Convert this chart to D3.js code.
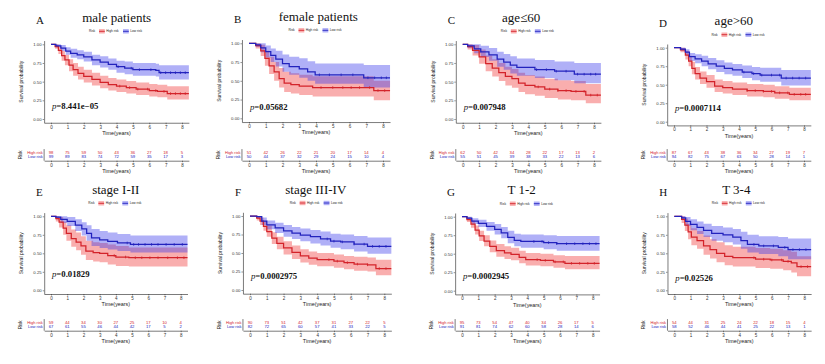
<!DOCTYPE html>
<html>
<head>
<meta charset="utf-8">
<script src="https://cdn.jsdelivr.net/npm/d3@7"></script>
<style>
  body { margin: 0; background: #fff; }
  svg { display: block; }
</style>
</head>
<body>
<svg id="chart" width="825" height="364"></svg>
<script>
// ---- data ----
const years = [0, 1, 2, 3, 4, 5, 6, 7, 8];
const yTicks = [0, 0.25, 0.5, 0.75, 1];
const panelIds = ['A', 'B', 'C', 'D', 'E', 'F', 'G', 'H'];
const panelTitles = ['male patients', 'female patients', 'age≤60', 'age>60',
  'stage I-II', 'stage III-IV', 'T 1-2', 'T 3-4'];
const pValues = ['8.441e−05', '0.05682', '0.007948', '0.0007114',
  '0.01829', '0.0002975', '0.0002945', '0.02526'];

// numbers at risk, years 0..8
const highAtRisk = [
  [98, 75, 59, 50, 43, 36, 27, 18, 5],
  [51, 42, 26, 22, 21, 20, 17, 14, 4],
  [62, 50, 42, 34, 28, 22, 17, 13, 2],
  [87, 67, 43, 38, 36, 34, 27, 19, 7],
  [59, 44, 34, 30, 27, 25, 17, 10, 4],
  [90, 73, 51, 42, 37, 31, 27, 22, 5],
  [95, 73, 54, 47, 40, 34, 26, 17, 5],
  [54, 44, 31, 25, 24, 22, 18, 15, 4],
];
const lowAtRisk = [
  [99, 89, 83, 74, 72, 59, 35, 17, 3],
  [50, 44, 37, 32, 29, 24, 15, 10, 4],
  [55, 51, 45, 39, 38, 33, 22, 13, 6],
  [94, 82, 75, 67, 63, 50, 28, 14, 1],
  [67, 61, 55, 46, 44, 42, 17, 5, 2],
  [82, 72, 65, 60, 57, 41, 33, 22, 5],
  [91, 81, 74, 62, 60, 58, 28, 14, 6],
  [58, 52, 46, 44, 41, 25, 22, 13, 1],
];

// survival steps: [time, survival, lower CI, upper CI]
const highCurves = [
  [[0,1,1,1],[0.25,0.97,0.94,1],[0.45,0.92,0.87,0.97],[0.65,0.85,0.78,0.91],[0.85,0.79,0.72,0.86],[1.1,0.72,0.64,0.8],[1.35,0.66,0.58,0.75],[1.65,0.61,0.53,0.7],[2.0,0.57,0.49,0.66],[2.5,0.53,0.45,0.62],[3.0,0.49,0.41,0.58],[3.5,0.46,0.38,0.55],[4.0,0.44,0.36,0.53],[4.6,0.42,0.34,0.51],[5.2,0.4,0.32,0.49],[6.0,0.38,0.3,0.47],[6.5,0.37,0.29,0.46],[7.1,0.34,0.26,0.44],[8.42,0.34,0.26,0.44]],
  [[0,1,1,1],[0.4,0.97,0.93,1],[0.7,0.9,0.83,0.98],[0.95,0.8,0.7,0.9],[1.2,0.7,0.59,0.82],[1.5,0.62,0.5,0.75],[1.8,0.53,0.41,0.67],[2.1,0.47,0.35,0.62],[2.5,0.45,0.33,0.6],[3.0,0.43,0.31,0.58],[3.8,0.41,0.29,0.56],[7.45,0.37,0.24,0.5],[8.42,0.37,0.24,0.5]],
  [[0,1,1,1],[0.3,0.97,0.93,1],[0.6,0.92,0.85,0.99],[1.0,0.83,0.74,0.93],[1.4,0.74,0.64,0.85],[1.8,0.68,0.57,0.8],[2.2,0.62,0.51,0.75],[2.6,0.57,0.45,0.7],[3.0,0.54,0.42,0.67],[3.4,0.48,0.36,0.62],[3.8,0.45,0.33,0.59],[4.4,0.43,0.31,0.57],[5.0,0.4,0.28,0.54],[5.8,0.38,0.26,0.52],[6.6,0.37,0.25,0.51],[7.5,0.32,0.21,0.47],[8.42,0.32,0.21,0.47]],
  [[0,1,1,1],[0.4,0.97,0.94,1],[0.7,0.9,0.84,0.96],[0.9,0.82,0.75,0.89],[1.1,0.72,0.64,0.81],[1.3,0.65,0.57,0.74],[1.6,0.59,0.51,0.68],[2.0,0.54,0.46,0.63],[2.5,0.48,0.4,0.57],[3.0,0.46,0.38,0.55],[3.6,0.44,0.36,0.53],[4.5,0.42,0.34,0.51],[5.5,0.41,0.33,0.5],[6.2,0.39,0.31,0.48],[7.1,0.37,0.29,0.46],[8.42,0.37,0.29,0.46]],
  [[0,1,1,1],[0.3,0.97,0.93,1],[0.5,0.92,0.85,0.99],[0.75,0.84,0.75,0.93],[0.95,0.77,0.67,0.88],[1.25,0.7,0.59,0.82],[1.55,0.65,0.54,0.78],[1.85,0.6,0.48,0.73],[2.15,0.53,0.41,0.67],[2.6,0.51,0.39,0.65],[3.0,0.5,0.38,0.64],[3.5,0.47,0.35,0.62],[4.0,0.45,0.33,0.6],[4.8,0.44,0.32,0.58],[8.42,0.44,0.32,0.58]],
  [[0,1,1,1],[0.4,0.97,0.94,1],[0.6,0.93,0.88,0.98],[0.8,0.86,0.8,0.93],[1.0,0.79,0.72,0.87],[1.3,0.7,0.62,0.78],[1.6,0.63,0.55,0.72],[2.0,0.57,0.48,0.66],[2.5,0.51,0.42,0.6],[3.0,0.46,0.37,0.55],[3.5,0.43,0.34,0.52],[4.0,0.41,0.32,0.5],[5.0,0.39,0.3,0.48],[5.6,0.37,0.28,0.46],[6.2,0.35,0.26,0.45],[7.0,0.34,0.25,0.44],[7.5,0.29,0.2,0.41],[8.42,0.29,0.2,0.41]],
  [[0,1,1,1],[0.3,0.96,0.93,0.99],[0.55,0.9,0.85,0.95],[0.8,0.82,0.76,0.88],[1.05,0.74,0.67,0.81],[1.35,0.67,0.6,0.75],[1.7,0.6,0.52,0.68],[2.1,0.54,0.46,0.63],[2.6,0.51,0.43,0.6],[3.0,0.49,0.41,0.58],[3.5,0.45,0.37,0.54],[3.9,0.42,0.34,0.51],[4.8,0.41,0.33,0.5],[5.6,0.39,0.31,0.48],[6.3,0.37,0.29,0.47],[8.42,0.37,0.29,0.47]],
  [[0,1,1,1],[0.45,0.96,0.91,1],[0.65,0.88,0.8,0.97],[0.85,0.79,0.69,0.9],[1.05,0.72,0.61,0.84],[1.4,0.67,0.56,0.8],[1.8,0.6,0.48,0.74],[2.2,0.55,0.43,0.69],[2.6,0.5,0.38,0.65],[3.1,0.46,0.34,0.61],[3.6,0.44,0.32,0.59],[5.0,0.42,0.3,0.57],[5.9,0.41,0.29,0.56],[6.7,0.39,0.27,0.54],[7.2,0.37,0.24,0.52],[7.55,0.32,0.19,0.46],[8.42,0.32,0.19,0.46]],
];
const lowCurves = [
  [[0,1,1,1],[0.3,0.98,0.96,1],[0.6,0.95,0.91,0.99],[0.9,0.91,0.86,0.96],[1.2,0.88,0.82,0.94],[1.6,0.86,0.8,0.92],[2.0,0.83,0.77,0.9],[2.5,0.79,0.72,0.86],[3.0,0.76,0.69,0.84],[3.5,0.73,0.66,0.81],[4.0,0.7,0.62,0.78],[4.5,0.68,0.6,0.77],[5.0,0.66,0.58,0.75],[6.4,0.65,0.57,0.74],[6.6,0.62,0.53,0.72],[8.42,0.62,0.53,0.72]],
  [[0,1,1,1],[0.4,0.98,0.95,1],[0.7,0.94,0.88,1],[1.0,0.89,0.81,0.97],[1.3,0.84,0.75,0.93],[1.6,0.79,0.69,0.9],[2.0,0.73,0.62,0.85],[2.4,0.69,0.58,0.82],[3.0,0.66,0.54,0.8],[3.5,0.62,0.5,0.76],[3.95,0.58,0.46,0.73],[6.85,0.54,0.41,0.71],[8.42,0.54,0.41,0.71]],
  [[0,1,1,1],[0.3,0.98,0.95,1],[0.7,0.94,0.88,1],[1.1,0.9,0.83,0.98],[1.6,0.86,0.78,0.95],[2.1,0.8,0.7,0.9],[2.5,0.76,0.66,0.87],[2.9,0.72,0.61,0.84],[3.3,0.69,0.58,0.81],[4.4,0.66,0.55,0.79],[5.6,0.64,0.52,0.77],[6.8,0.6,0.48,0.75],[8.42,0.6,0.48,0.75]],
  [[0,1,1,1],[0.4,0.98,0.96,1],[0.7,0.94,0.9,0.98],[0.95,0.88,0.82,0.93],[1.3,0.85,0.79,0.91],[1.7,0.82,0.75,0.89],[2.1,0.78,0.71,0.86],[2.6,0.75,0.67,0.83],[3.1,0.72,0.64,0.8],[3.6,0.7,0.62,0.78],[4.2,0.67,0.59,0.76],[4.8,0.65,0.56,0.74],[5.3,0.63,0.54,0.73],[6.6,0.59,0.49,0.7],[8.42,0.59,0.49,0.7]],
  [[0,1,1,1],[0.3,0.99,0.96,1],[0.6,0.96,0.91,1],[1.0,0.93,0.87,0.99],[1.5,0.88,0.8,0.96],[1.9,0.83,0.74,0.92],[2.2,0.77,0.67,0.88],[2.5,0.71,0.6,0.83],[3.0,0.68,0.57,0.8],[3.5,0.66,0.55,0.78],[4.1,0.64,0.53,0.76],[4.9,0.62,0.51,0.74],[8.42,0.62,0.51,0.74]],
  [[0,1,1,1],[0.4,0.99,0.97,1],[0.7,0.93,0.88,0.98],[1.0,0.88,0.82,0.94],[1.5,0.84,0.77,0.91],[2.0,0.8,0.72,0.88],[2.5,0.77,0.69,0.85],[3.0,0.74,0.66,0.83],[3.6,0.72,0.63,0.81],[4.2,0.69,0.6,0.79],[4.8,0.66,0.57,0.76],[5.4,0.65,0.55,0.75],[6.2,0.62,0.52,0.73],[7.0,0.59,0.49,0.71],[8.42,0.59,0.49,0.71]],
  [[0,1,1,1],[0.3,0.98,0.96,1],[0.6,0.94,0.9,0.98],[1.0,0.91,0.86,0.96],[1.5,0.87,0.81,0.93],[2.0,0.83,0.76,0.9],[2.4,0.78,0.71,0.86],[2.8,0.72,0.64,0.81],[3.2,0.68,0.6,0.77],[3.6,0.665,0.58,0.76],[5.0,0.65,0.56,0.75],[5.8,0.635,0.54,0.74],[8.42,0.635,0.54,0.74]],
  [[0,1,1,1],[0.45,0.98,0.95,1],[0.7,0.93,0.87,0.99],[1.0,0.89,0.81,0.96],[1.4,0.85,0.76,0.93],[1.8,0.81,0.72,0.9],[2.3,0.77,0.67,0.87],[3.0,0.75,0.65,0.85],[3.6,0.72,0.62,0.83],[4.1,0.67,0.56,0.79],[4.5,0.62,0.51,0.75],[5.2,0.6,0.49,0.73],[6.4,0.58,0.46,0.72],[7.0,0.55,0.42,0.7],[8.42,0.55,0.42,0.7]],
];

// censoring times (years)
const highCensor = [
  [4.2, 4.8, 5.3, 5.9, 6.4, 6.9, 7.3, 7.6, 7.9, 8.2],
  [4.3, 5.0, 5.6, 6.1, 6.6, 7.2, 7.7, 8.1],
  [4.6, 5.3, 5.8, 6.3, 6.9, 7.4, 7.8, 8.2],
  [4.5, 5.0, 5.5, 6.0, 6.5, 7.0, 7.4, 7.8, 8.1],
  [3.9, 4.6, 5.2, 5.6, 6.1, 6.6, 7.2, 7.8, 8.2],
  [4.7, 5.2, 5.8, 6.4, 7.0, 7.7, 8.1],
  [4.6, 5.1, 5.7, 6.2, 6.7, 7.2, 7.7, 8.1],
  [4.9, 5.5, 6.0, 6.6, 7.0, 7.8, 8.2],
];
const lowCensor = [
  [4.1, 4.9, 5.4, 6.1, 6.7, 7.0, 7.3, 7.6, 7.9, 8.2],
  [4.2, 4.8, 5.5, 6.2, 7.1, 7.5, 7.9, 8.2],
  [4.5, 5.1, 5.7, 6.3, 7.0, 7.4, 7.8, 8.1],
  [4.3, 4.9, 5.4, 6.0, 6.5, 6.9, 7.3, 7.7, 8.1],
  [4.7, 5.1, 5.4, 5.8, 6.2, 6.6, 7.1, 7.6, 8.1],
  [4.6, 5.0, 5.5, 6.2, 6.8, 7.3, 7.7, 8.1],
  [4.4, 4.9, 5.3, 5.8, 6.4, 6.9, 7.4, 7.8, 8.2],
  [4.9, 5.5, 6.1, 6.8, 7.3, 7.7, 8.1],
];

// ---- layout: pixel positions of year 0, span of 0..8 years, y of 1.00 and 0.00 ----
const layout = [
  { x0: 51, xs: 131, y1: 44.3, y0: 119, titleX: 116.7, pDy: -13 },
  { x0: 249, xs: 134, y1: 43.3, y0: 118.3, titleX: 318.3, pDy: -11 },
  { x0: 462.7, xs: 131.3, y1: 44.3, y0: 119, titleX: 521.2, pDy: -12.3 },
  { x0: 674, xs: 130, y1: 47.7, y0: 121.7, titleX: 733.8, pDy: -14 },
  { x0: 51, xs: 129.7, y1: 216.3, y0: 290.3, titleX: 115.8, pDy: -16.6 },
  { x0: 250, xs: 134.3, y1: 216, y0: 290, titleX: 315.8, pDy: -13.7 },
  { x0: 462, xs: 130.7, y1: 216.7, y0: 290.7, titleX: 521.7, pDy: -14.4 },
  { x0: 674.3, xs: 130, y1: 216.3, y0: 290.3, titleX: 736.3, pDy: -12.6 },
];
const tableRowY = [152.7, 322.7];

const sans = "'Liberation Sans', Arial, sans-serif";
const serif = "'Liberation Serif', 'Times New Roman', serif";
const red = '#d3232a';
const blue = '#2222bd';
const redFill = '#ef3535';
const blueFill = '#3a3aec';

const svg = d3.select('#chart');

function styleAxis(sel, fs) {
  sel.attr('font-family', sans);
  sel.select('.domain').attr('stroke', '#222').attr('stroke-width', 0.6);
  sel.selectAll('.tick line').attr('stroke', '#222').attr('stroke-width', 0.5);
  sel.selectAll('.tick text').attr('font-size', fs).attr('fill', '#333');
}

function survAt(curve, t) {
  const k = d3.bisector((p) => p[0]).right(curve, t) - 1;
  return curve[Math.max(0, k)][1];
}

panelIds.forEach((id, i) => {
  const L = layout[i];
  const g = svg.append('g');
  const x = d3.scaleLinear().domain([0, 8]).range([L.x0, L.x0 + L.xs]);
  const y = d3.scaleLinear().domain([0, 1]).range([L.y0, L.y1]);
  const xAxisScale = d3.scaleLinear().domain([-0.42, 8.42]).range([x(-0.42), x(8.42)]);
  const yAxisScale = d3.scaleLinear().domain([-0.05, 1.05]).range([y(-0.05), y(1.05)]);
  const left = x(-0.42);
  const bottom = y(-0.05);
  const midX = (x(-0.42) + x(8.42)) / 2;

  const groups = [
    { curve: highCurves[i], censor: highCensor[i], line: red, fill: redFill },
    { curve: lowCurves[i], censor: lowCensor[i], line: blue, fill: blueFill },
  ];

  // confidence bands
  groups.forEach((s) => {
    g.append('path')
      .datum(s.curve)
      .attr('d', d3.area().curve(d3.curveStepAfter)
        .x((p) => x(p[0])).y0((p) => y(p[2])).y1((p) => y(p[3])))
      .attr('fill', s.fill)
      .attr('fill-opacity', 0.4);
  });

  // survival lines + censor marks
  groups.forEach((s) => {
    g.append('path')
      .datum(s.curve)
      .attr('d', d3.line().curve(d3.curveStepAfter).x((p) => x(p[0])).y((p) => y(p[1])))
      .attr('fill', 'none')
      .attr('stroke', s.line)
      .attr('stroke-width', 1.25);
    g.selectAll(null)
      .data(s.censor)
      .enter()
      .append('line')
      .attr('x1', (t) => x(t))
      .attr('x2', (t) => x(t))
      .attr('y1', (t) => y(survAt(s.curve, t)) - 1.3)
      .attr('y2', (t) => y(survAt(s.curve, t)) + 1.3)
      .attr('stroke', s.line)
      .attr('stroke-width', 0.8);
  });

  // axes
  g.append('g')
    .attr('transform', `translate(0,${bottom})`)
    .call(d3.axisBottom(xAxisScale).tickValues(years).tickSize(1.5).tickSizeOuter(0).tickPadding(1.2))
    .call((s) => styleAxis(s, 4.5));
  g.append('g')
    .attr('transform', `translate(${left},0)`)
    .call(d3.axisLeft(yAxisScale).tickValues(yTicks).tickFormat(d3.format('.2f'))
      .tickSize(1.5).tickSizeOuter(0).tickPadding(1))
    .call((s) => styleAxis(s, 4.3));

  g.append('text')
    .attr('x', midX)
    .attr('y', L.y0 + 15.8)
    .attr('text-anchor', 'middle')
    .attr('font-family', sans)
    .attr('font-size', 5.4)
    .attr('fill', '#222')
    .text('Time(years)');
  g.append('text')
    .attr('transform', `translate(${L.x0 - 29.3},${(y(1.05) + bottom) / 2}) rotate(-90)`)
    .attr('text-anchor', 'middle')
    .attr('dominant-baseline', 'middle')
    .attr('font-family', sans)
    .attr('font-size', 5)
    .attr('fill', '#222')
    .text('Survival probability');

  // panel letter and title
  g.append('text')
    .attr('x', L.x0 - 15)
    .attr('y', L.y1 - 20.5)
    .attr('font-family', serif)
    .attr('font-size', 11)
    .attr('fill', '#111')
    .text(id);
  g.append('text')
    .attr('x', L.titleX)
    .attr('y', L.y1 - 22.5)
    .attr('text-anchor', 'middle')
    .attr('font-family', serif)
    .attr('font-size', 13)
    .attr('fill', '#111')
    .text(panelTitles[i]);

  // legend
  const lg = g.append('g')
    .attr('transform', `translate(${midX},${L.y1 - 13})`)
    .attr('font-family', sans)
    .attr('font-size', 3.2)
    .attr('fill', '#222');
  lg.append('text').attr('x', -27.5).attr('dy', '0.35em').text('Risk');
  [{ dx: -17.5, label: 'High risk', s: groups[0] }, { dx: 6.5, label: 'Low risk', s: groups[1] }]
    .forEach((k) => {
      lg.append('rect').attr('x', k.dx).attr('y', -2.2).attr('width', 5.8).attr('height', 4.4)
        .attr('fill', k.s.fill).attr('fill-opacity', 0.4);
      lg.append('line').attr('x1', k.dx).attr('x2', k.dx + 5.8)
        .attr('stroke', k.s.line).attr('stroke-width', 0.9);
      lg.append('text').attr('x', k.dx + 7.3).attr('dy', '0.35em').text(k.label);
    });

  // p value
  const pt = g.append('text')
    .attr('x', L.x0 + 1)
    .attr('y', L.y0 + L.pDy + 3)
    .attr('font-family', serif)
    .attr('font-size', 8.7)
    .attr('font-weight', 'bold')
    .attr('fill', '#111');
  pt.append('tspan').attr('font-style', 'italic').attr('font-weight', 'normal').text('p');
  pt.append('tspan').text('=' + pValues[i]);

  // risk table
  const tY = tableRowY[i < 4 ? 0 : 1];
  const rows = [
    { y: tY, label: 'High risk', values: highAtRisk[i], color: red },
    { y: tY + 4.2, label: 'Low risk', values: lowAtRisk[i], color: blue },
  ];
  rows.forEach((r) => {
    g.append('text')
      .attr('x', left - 1.4)
      .attr('y', r.y)
      .attr('dy', '0.35em')
      .attr('text-anchor', 'end')
      .attr('font-family', sans)
      .attr('font-size', 4)
      .attr('fill', r.color)
      .text(r.label);
    g.selectAll(null)
      .data(years)
      .enter()
      .append('text')
      .attr('x', (yr) => x(yr))
      .attr('y', r.y)
      .attr('dy', '0.35em')
      .attr('text-anchor', 'middle')
      .attr('font-family', sans)
      .attr('font-size', 4.2)
      .attr('fill', r.color)
      .text((yr, k) => r.values[k]);
  });
  g.append('line')
    .attr('x1', left).attr('x2', left)
    .attr('y1', tY - 3.6).attr('y2', tY + 8)
    .attr('stroke', '#222').attr('stroke-width', 0.6);
  g.append('g')
    .attr('transform', `translate(0,${tY + 8})`)
    .call(d3.axisBottom(xAxisScale).tickValues(years).tickSize(1.5).tickSizeOuter(0).tickPadding(1.2))
    .call((s) => styleAxis(s, 4.5));
  g.append('text')
    .attr('x', midX)
    .attr('y', tY + 20.2)
    .attr('text-anchor', 'middle')
    .attr('font-family', sans)
    .attr('font-size', 5.4)
    .attr('fill', '#222')
    .text('Time(years)');
  g.append('text')
    .attr('transform', `translate(${L.x0 - 30.3},${tY + 2.1}) rotate(-90)`)
    .attr('text-anchor', 'middle')
    .attr('dominant-baseline', 'middle')
    .attr('font-family', sans)
    .attr('font-size', 4.6)
    .attr('fill', '#222')
    .text('Risk');
});
</script>
</body>
</html>
